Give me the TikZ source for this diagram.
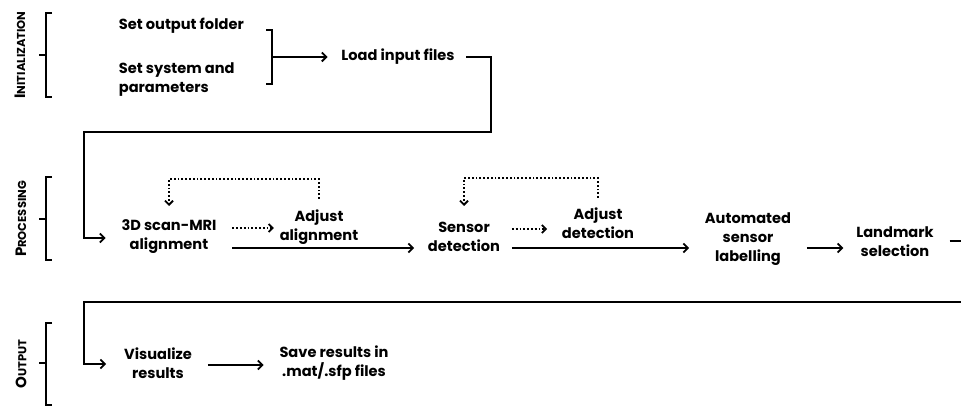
\documentclass[tikz,border=0pt]{standalone}
\usepackage{fontspec}
\setmainfont{Poppins}
\usetikzlibrary{arrows.meta}
\newcommand\fakesc[2]{{\fontsize{15}{16}\selectfont #1}{\fontsize{11.5}{12}\selectfont #2}}
\begin{document}
\begin{tikzpicture}[x=1pt,y=-1pt,line width=1.8pt,
  txt/.style={font=\bfseries\fontsize{14.6}{19}\selectfont,inner sep=0pt,align=center},
  lab/.style={font=\bfseries,rotate=90,inner sep=0pt},
  arr/.style={-{Straight Barb[length=4.5pt,width=9pt,line width=1.8pt]}},
  dotarr/.style={dotted,-{Straight Barb[length=4pt,width=8pt,line width=1.8pt]}}]
\useasboundingbox (0,0) rectangle (961,406);
% side labels
\node[lab] (linit) at (20,55) {\fakesc{I}{NITIALIZATION}};
\node[lab] (lproc) at (21,219) {\fakesc{P}{ROCESSING}};
\node[lab] (lout) at (21,364) {\fakesc{O}{UTPUT}};
% left brackets
\draw (52,13) -- (46,13) -- (46,97) -- (52,97) (39,55) -- (46,55);
\draw (52,177) -- (46,177) -- (46,260) -- (52,260) (39,219) -- (46,219);
\draw (52,323) -- (46,323) -- (46,405) -- (52,405) (39,363) -- (46,363);
% init
\node[txt,anchor=west] (sof) at (118,26) {Set output folder};
\node[txt,anchor=west,align=left] (ssp) at (118,80) {Set system and\\parameters};
\draw (266,30) -- (272,30) -- (272,84) -- (266,84);
\coordinate (rb) at (272,57);
\node[txt] (lif) at (398,57) {Load input files};
\draw[arr] (rb) -- ([xshift=-13pt]lif.west);
% processing
\node[txt] (scan) at (169,237) {3D scan-MRI\\alignment};
\node[txt] (adja) at (319,227) {Adjust\\alignment};
\node[txt] (sens) at (464,237) {Sensor\\detection};
\node[txt] (adjd) at (598,223) {Adjust\\detection};
\node[txt] (auto) at (748,239) {Automated\\sensor\\labelling};
\node[txt] (land) at (895,242) {Landmark\\selection};
\coordinate (c1) at (491,57);
\coordinate (c2) at (491,132);
\coordinate (c3) at (84,132);
\draw[arr] ([xshift=11pt]lif.east) -- (c1) -- (c2) -- (c3) |- ([xshift=-15pt]scan.west |- 0,238);
\draw[dotarr] ([xshift=15pt]scan.east |- 0,228) -- ([xshift=-5pt]adja.west |- 0,228);
\draw[dotarr] (adja.north |- 0,199) -- (adja.north |- 0,179) -| (scan.north |- 0,206);
\draw[arr] ([xshift=15pt]scan.east |- 0,248) -- ([xshift=-13pt]sens.west |- 0,248);
\draw[dotarr] ([xshift=11pt]sens.east |- 0,229) -- ([xshift=-14pt]adjd.west |- 0,229);
\draw[dotarr] (adjd.north |- 0,198) -- (adjd.north |- 0,178) -| (sens.north |- 0,206);
\draw[arr] ([xshift=11pt]sens.east |- 0,248) -- ([xshift=-15pt]auto.west |- 0,248);
\draw[arr] ([xshift=15pt]auto.east |- 0,248) -- ([xshift=-12pt]land.west |- 0,248);
\coordinate (e1) at (961,241);
\draw ([xshift=15pt]land.east |- 0,241) -- (e1);
% output
\node[txt] (vis) at (158,363) {Visualize\\results};
\node[txt] (save) at (334,363) {Save results in\\.mat/.sfp files};
\coordinate (o1) at (961,302);
\coordinate (o2) at (84,302);
\draw[arr] (o1) -- (o2) |- ([xshift=-17pt]vis.west |- 0,364);
\draw[arr] ([xshift=15pt]vis.east |- 0,365) -- ([xshift=-15pt]save.west |- 0,365);
\end{tikzpicture}
\end{document}
